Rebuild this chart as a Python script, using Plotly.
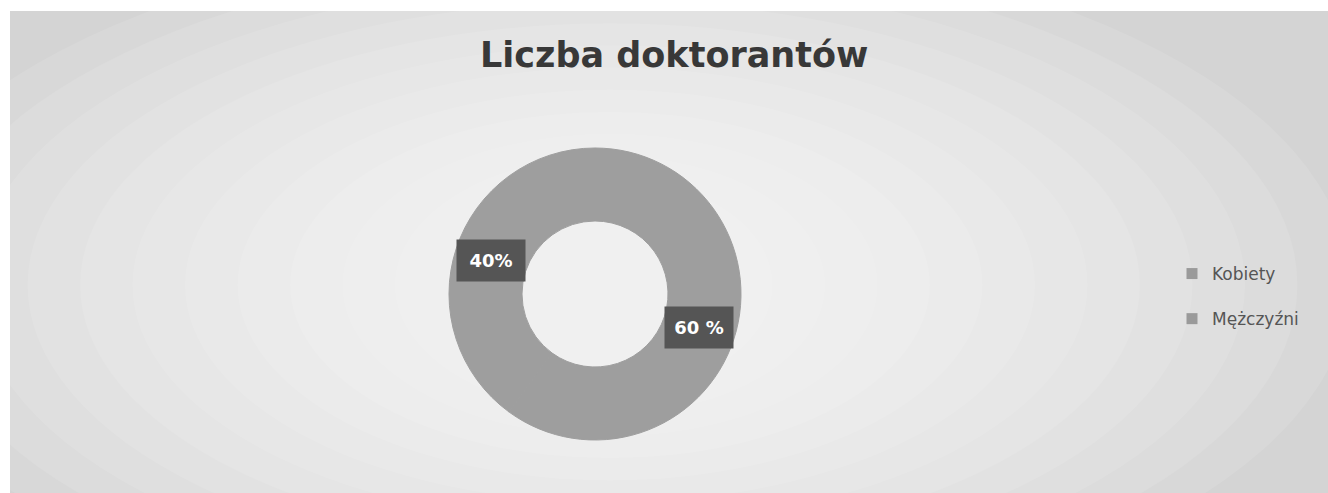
import math
import plotly.graph_objects as go

# ---- data ----
categories = ["Kobiety", "Mężczyźni"]
values = [40, 60]
percent_labels = ["40%", "60 %"]
title_text = "Liczba doktorantów"

W, H = 1328, 493
slice_color = "#9e9e9e"
label_bg = "#555555"

# donut geometry (pixels)
cx, cy, R = 595, 294, 146
hole = 0.5
rotation = 216  # degrees clockwise from 12 o'clock where the first slice starts

fig = go.Figure()

fig.add_trace(go.Pie(
    labels=categories,
    values=values,
    hole=hole,
    sort=False,
    direction="clockwise",
    rotation=rotation,
    marker=dict(colors=[slice_color, slice_color],
                line=dict(color=slice_color, width=1)),
    textinfo="none",
    hoverinfo="label+percent",
    showlegend=False,
    domain=dict(x=[(cx - R) / W, (cx + R) / W],
                y=[(H - cy - R) / H, (H - cy + R) / H]),
))

# legend entries
for cat in categories:
    fig.add_trace(go.Scatter(
        x=[None], y=[None], mode="markers", name=cat,
        legendgroup=cat,
        marker=dict(symbol="square", size=11, color="#9a9a9a"),
    ))

# data labels at slice mid-angles (clockwise from the rotation angle)
total = sum(values)
cum = 0
r_mid = R * (1 + hole) / 2
annotations = []
for v, lab in zip(values, percent_labels):
    ang = math.radians(rotation + (cum + v / 2) / total * 360)
    cum += v
    px = cx + r_mid * math.sin(ang)
    py = cy - r_mid * math.cos(ang)
    annotations.append(dict(
        x=px / W, y=1 - py / H, xref="paper", yref="paper",
        text="<b>" + lab + "</b>", showarrow=False,
        font=dict(family="DejaVu Sans", size=18, color="white"),
        bgcolor=label_bg, borderpad=8, width=52, height=25,
        xanchor="center", yanchor="middle",
    ))

annotations.append(dict(
    x=674 / W, y=1 - 55 / H, xref="paper", yref="paper",
    text="<b>" + title_text + "</b>", showarrow=False,
    font=dict(family="DejaVu Sans", size=35, color="#383838"),
    xanchor="center", yanchor="middle",
))

shapes = [dict(type="rect", xref="paper", yref="paper",
               x0=10 / W, x1=1, y0=0, y1=1 - 11 / H,
               fillcolor="#d4d4d4", line=dict(width=0), layer="below")]
# soft lighter glow in the middle of the scanned card
n = 12
for i in range(n):
    f = 1 - i / n
    rx, ry = 110 + 630 * f, 85 + 265 * f
    shapes.append(dict(type="circle", xref="paper", yref="paper",
                       x0=(610 - rx) / W, x1=(610 + rx) / W,
                       y0=1 - (285 + ry) / H, y1=1 - (285 - ry) / H,
                       fillcolor="white", opacity=0.1, line=dict(width=0),
                       layer="below"))

fig.update_layout(
    width=W, height=H,
    margin=dict(l=0, r=0, t=0, b=0),
    paper_bgcolor="white",
    plot_bgcolor="rgba(0,0,0,0)",
    xaxis=dict(visible=False),
    yaxis=dict(visible=False),
    showlegend=True,
    legend=dict(x=1172 / W, y=1 - 256 / H, xanchor="left", yanchor="top",
                bgcolor="rgba(0,0,0,0)",
                font=dict(family="DejaVu Sans", size=17, color="#555555"),
                tracegroupgap=20),
    shapes=shapes,
    annotations=annotations,
)

fig.write_html("out.html")
